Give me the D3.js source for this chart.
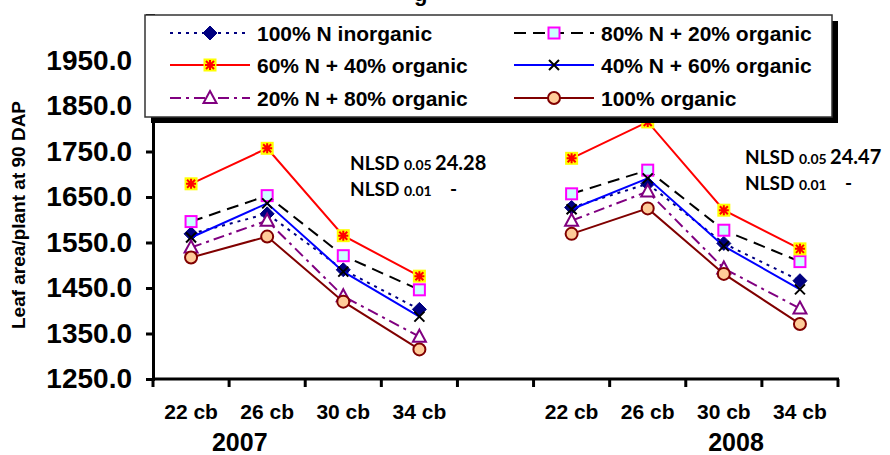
<!DOCTYPE html>
<html>
<head>
<meta charset="utf-8">
<script src="https://cdn.jsdelivr.net/npm/d3@7"></script>
<style>
  body { margin: 0; background: #fff; }
  svg text { font-family: "Liberation Sans", Arial, sans-serif; font-weight: bold; }
  .nlsd { font-family: Lato, "Open Sans", sans-serif; }
</style>
</head>
<body>
<div id="chart"></div>
<script>
// data
const years = ["2007", "2008"];
const categories = ["22 cb", "26 cb", "30 cb", "34 cb"];
const yTicks = [1250, 1350, 1450, 1550, 1650, 1750, 1850, 1950];

const inorganic100 = [[1569, 1613, 1490, 1403], [1627, 1679, 1548, 1466]];
const n80org20 = [[1596, 1653, 1521, 1446], [1657, 1709, 1577, 1508]];
const n60org40 = [[1679, 1757, 1565, 1476], [1735, 1815, 1621, 1536]];
const n40org60 = [[1561, 1636, 1486, 1387], [1623, 1691, 1542, 1447]];
const n20org80 = [[1539, 1598, 1432, 1343], [1598, 1662, 1493, 1405]];
const organic100 = [[1517, 1563, 1420, 1315], [1569, 1625, 1481, 1371]];

const seriesNames = ["100% N inorganic", "80% N + 20% organic", "60% N + 40% organic",
                     "40% N + 60% organic", "20% N + 80% organic", "100% organic"];
const nlsd05 = ["24.28", "24.47"];
const nlsd01 = ["-", "-"];

const series = [
  { name: seriesNames[0], values: inorganic100, color: "#000080", dash: "3,5", marker: "diamond" },
  { name: seriesNames[1], values: n80org20, color: "#000000", dash: "12,7", marker: "square" },
  { name: seriesNames[2], values: n60org40, color: "#ff0000", dash: null, marker: "star" },
  { name: seriesNames[3], values: n40org60, color: "#0000ff", dash: null, marker: "x" },
  { name: seriesNames[4], values: n20org80, color: "#800080", dash: "11,5,3,5", marker: "triangle" },
  { name: seriesNames[5], values: organic100, color: "#800000", dash: null, marker: "circle" }
];

const width = 890, height = 455;
const svg = d3.select("#chart").append("svg")
  .attr("width", width).attr("height", height);

// slots: 4 categories, a gap, 4 categories
const slots = [];
years.forEach((yr, i) => {
  if (i > 0) slots.push("gap");
  categories.forEach(c => slots.push(yr + "|" + c));
});

const x = d3.scaleBand().domain(slots).range([153, 838]).paddingInner(0).paddingOuter(0);
const y = d3.scaleLinear().domain([1250, 2050]).range([379, 15]);

// title peeking out above the legend
svg.append("text").attr("x", 414).attr("y", 1).attr("font-size", 22).text("g");

// y axis
const yAxis = svg.append("g").attr("transform", "translate(153,0)")
  .call(d3.axisLeft(y).tickValues(yTicks).tickFormat(d3.format(".1f")).tickSize(7).tickPadding(14));
yAxis.select(".domain").attr("stroke-width", 3);
yAxis.selectAll(".tick line").attr("stroke-width", 3);
yAxis.selectAll("text").attr("font-size", 28).attr("font-family", "Liberation Sans, Arial, sans-serif");

// x axis with ticks at band edges
const xg = svg.append("g");
xg.append("line").attr("x1", 153).attr("x2", 839).attr("y1", 379).attr("y2", 379)
  .attr("stroke", "#000").attr("stroke-width", 3);
const edges = slots.map(s => x(s)).concat([x.range()[1]]);
xg.selectAll(".xt").data(edges).enter().append("line")
  .attr("x1", d => d).attr("x2", d => d).attr("y1", 379).attr("y2", 387)
  .attr("stroke", "#000").attr("stroke-width", 3);

slots.filter(s => s !== "gap").forEach(s => {
  svg.append("text").attr("x", x(s) + x.bandwidth() / 2).attr("y", 419)
    .attr("text-anchor", "middle").attr("font-size", 21).text(s.split("|")[1]);
});
// year labels sit off-centre, measured in bands from the group's first category
const yearOffsetBands = [1.14, 2.66];
years.forEach((yr, i) => {
  const xm = x(yr + "|" + categories[0]) + yearOffsetBands[i] * x.bandwidth();
  svg.append("text").attr("x", xm).attr("y", 451)
    .attr("text-anchor", "middle").attr("font-size", 25).text(yr);
});

svg.append("text")
  .attr("transform", "translate(25,215) rotate(-90)")
  .attr("text-anchor", "middle").attr("font-size", 19)
  .text("Leaf area/plant at 90 DAP");

// markers
function drawMarker(g, type, cx, cy) {
  if (type === "diamond") {
    g.append("path").attr("d", `M${cx},${cy - 7}L${cx + 7},${cy}L${cx},${cy + 7}L${cx - 7},${cy}Z`)
      .attr("fill", "#000080").attr("stroke", "#000080");
  } else if (type === "square") {
    g.append("rect").attr("x", cx - 5.5).attr("y", cy - 5.5).attr("width", 11).attr("height", 11)
      .attr("fill", "#ccffff").attr("stroke", "#ff00ff").attr("stroke-width", 2);
  } else if (type === "star") {
    g.append("rect").attr("x", cx - 6.5).attr("y", cy - 6.5).attr("width", 13).attr("height", 13)
      .attr("fill", "#ffff00");
    g.append("path").attr("d", `M${cx - 4},${cy - 4}L${cx + 4},${cy + 4}M${cx + 4},${cy - 4}L${cx - 4},${cy + 4}M${cx},${cy - 5}L${cx},${cy + 5}M${cx - 5},${cy}L${cx + 5},${cy}`)
      .attr("stroke", "#ff0000").attr("stroke-width", 2);
  } else if (type === "x") {
    g.append("path").attr("d", `M${cx - 5},${cy - 5}L${cx + 5},${cy + 5}M${cx + 5},${cy - 5}L${cx - 5},${cy + 5}`)
      .attr("stroke", "#000").attr("stroke-width", 2);
  } else if (type === "triangle") {
    g.append("path").attr("d", `M${cx},${cy - 7}L${cx + 6.5},${cy + 5}L${cx - 6.5},${cy + 5}Z`)
      .attr("fill", "#fff").attr("stroke", "#800080").attr("stroke-width", 2);
  } else if (type === "circle") {
    g.append("circle").attr("cx", cx).attr("cy", cy).attr("r", 6)
      .attr("fill", "#ffcc99").attr("stroke", "#800000").attr("stroke-width", 2);
  }
}

const line = d3.line().x(d => d.x).y(d => d.y);
const plot = svg.append("g");
series.forEach(s => {
  const g = plot.append("g");
  years.forEach((yr, yi) => {
    const pts = categories.map((c, ci) => ({
      x: x(yr + "|" + c) + x.bandwidth() / 2,
      y: y(s.values[yi][ci])
    }));
    g.append("path").datum(pts).attr("d", line)
      .attr("fill", "none").attr("stroke", s.color).attr("stroke-width", 2)
      .attr("stroke-dasharray", s.dash);
    pts.forEach(p => drawMarker(g, s.marker, p.x, p.y));
  });
});

// NLSD notes
const nlsdPos = [[350, 170, 196], [745, 164, 190]];
years.forEach((yr, i) => {
  const [nx, y1, y2] = nlsdPos[i];
  const t1 = svg.append("text").attr("class", "nlsd").attr("x", nx).attr("y", y1).attr("font-size", 19);
  t1.append("tspan").text("NLSD ");
  t1.append("tspan").attr("font-size", 14).text("0.05 ");
  t1.append("tspan").attr("font-size", 20).text(nlsd05[i]);
  const t2 = svg.append("text").attr("class", "nlsd").attr("x", nx).attr("y", y2).attr("font-size", 19);
  t2.append("tspan").text("NLSD ");
  t2.append("tspan").attr("font-size", 14).text("0.01");
  svg.append("text").attr("class", "nlsd").attr("x", nx + 100).attr("y", y2)
    .attr("font-size", 19).text(nlsd01[i]);
});

// legend with shadow
const legend = svg.append("g");
legend.append("rect").attr("x", 151).attr("y", 21).attr("width", 687).attr("height", 102).attr("fill", "#000");
legend.append("rect").attr("x", 145).attr("y", 15).attr("width", 687).attr("height", 102)
  .attr("fill", "#fff").attr("stroke", "#333").attr("stroke-width", 1.5);
const legendCols = [170, 514];
const legendRows = [33, 65, 98];
series.forEach((s, i) => {
  const lx = legendCols[i % 2], ly = legendRows[Math.floor(i / 2)];
  legend.append("line").attr("x1", lx).attr("x2", lx + 80).attr("y1", ly).attr("y2", ly)
    .attr("stroke", s.color).attr("stroke-width", 2).attr("stroke-dasharray", s.dash);
  drawMarker(legend, s.marker, lx + 40, ly);
  legend.append("text").attr("x", lx + 87).attr("y", ly + 7.5).attr("font-size", 21).text(s.name);
});
</script>
</body>
</html>
